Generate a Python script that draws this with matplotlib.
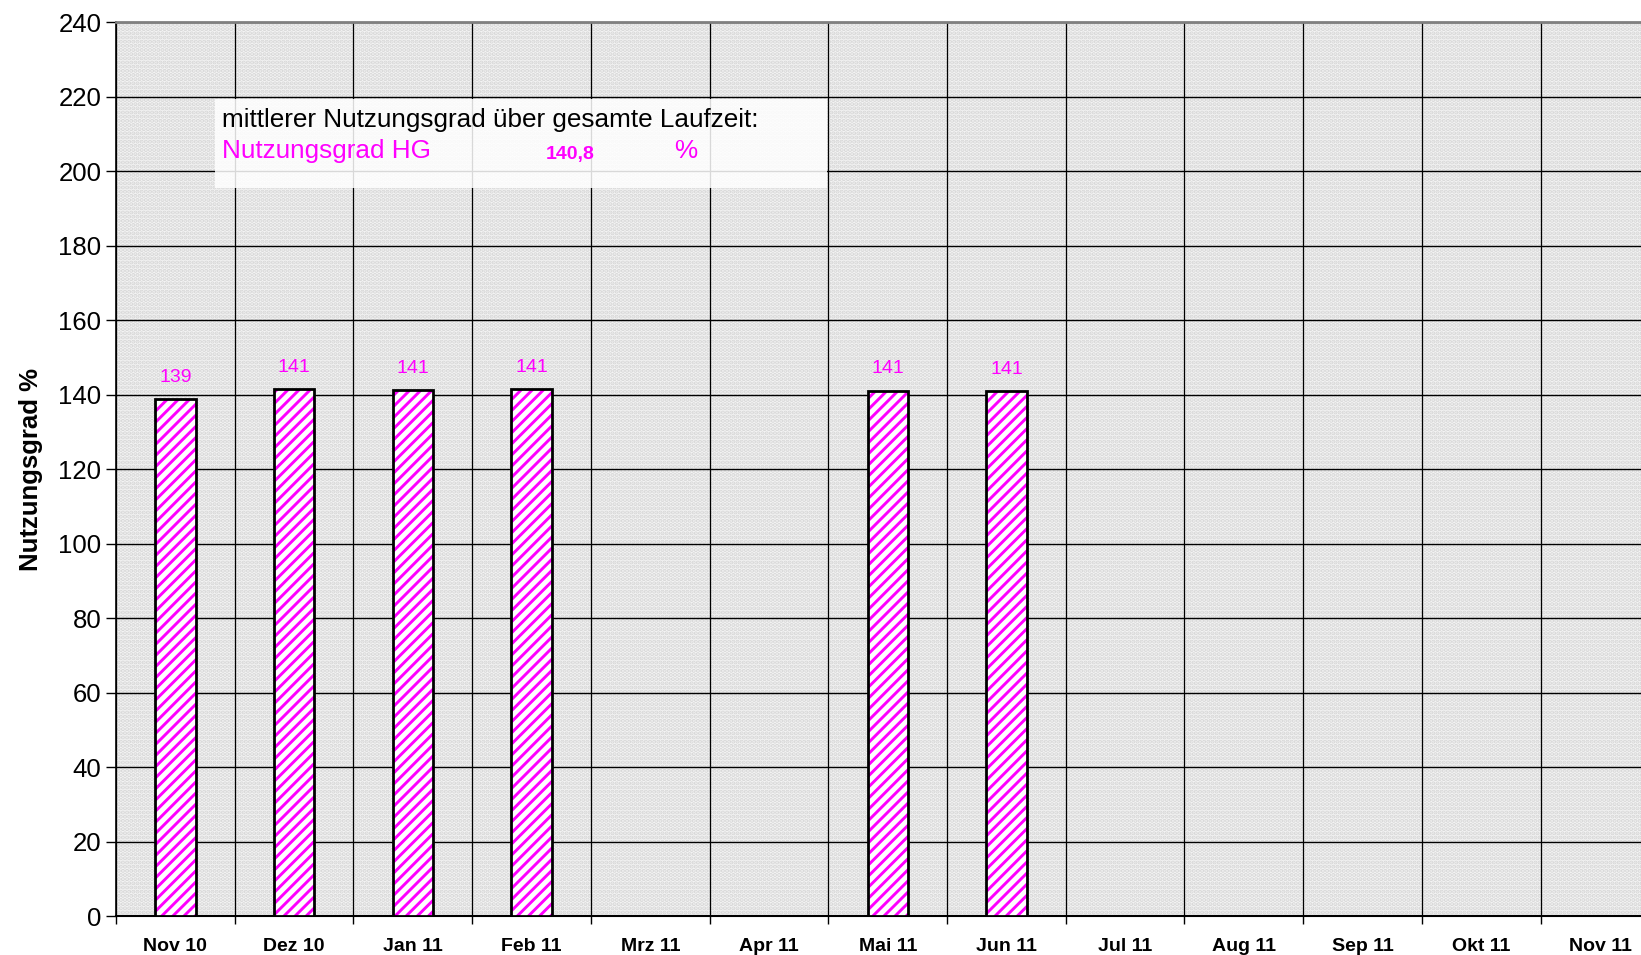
import numpy as np
import matplotlib.pyplot as plt

# --------------- Data -----------------
months = ["Nov 10", "Dez 10", "Jan 11", "Feb 11", "Mrz 11", "Apr 11", "Mai 11",
          "Jun 11", "Jul 11", "Aug 11", "Sep 11", "Okt 11", "Nov 11"]
nutzungsgrad = [138.8, 141.4, 141.2, 141.4, np.nan, np.nan, 141.1,
                140.9, np.nan, np.nan, np.nan, np.nan, np.nan]
mean_value = "140,8"
y_ticks = list(range(0, 241, 20))

plt.rcParams['font.family'] = ['Liberation Sans', 'DejaVu Sans']
plt.rcParams['hatch.linewidth'] = 2.1

MAGENTA = "#ff00ff"

fig = plt.figure(figsize=(16.41, 9.55), dpi=100)
ax = fig.add_axes([0.0707, 0.0408, 0.9405, 0.936])

# dotted grey background
ax.set_facecolor("#f4f4f4")
ax.patch.set_hatch("....")
ax.patch.set_edgecolor("#d6d6d6")
ax.patch.set_linewidth(0)

x = np.arange(len(months))
vals = np.array(nutzungsgrad, dtype=float)
mask = ~np.isnan(vals)

# ---- bars: magenta hatch, black outline ----
ax.bar(x[mask], vals[mask], width=0.34, color="white", edgecolor=MAGENTA,
       hatch="///", lw=0, zorder=3)
ax.bar(x[mask], vals[mask], width=0.34, fill=False, edgecolor="black",
       lw=2, zorder=4)
for xi, v in zip(x[mask], vals[mask]):
    ax.text(xi, v + 3.5, f"{v:.0f}", ha="center", va="bottom", color=MAGENTA,
            fontsize=14, zorder=5)

# ---- axes & grid ----
ax.set_xlim(-0.5, len(months) - 0.5)
ax.set_ylim(0, 240)
ax.set_yticks(y_ticks)
ax.tick_params(axis="y", labelsize=18.5, length=7, width=1, direction="out")
ax.set_xticks(x)
ax.set_xticklabels(months, fontsize=14, fontweight="bold")
ax.set_xticks(np.arange(len(months)) - 0.5, minor=True)
ax.tick_params(axis="x", which="major", length=0, pad=16)
ax.tick_params(axis="x", which="minor", length=6, width=1, direction="out")
ax.grid(True, axis="y", which="major", color="black", lw=1, zorder=1)
ax.grid(True, axis="x", which="minor", color="black", lw=0.9, zorder=1)
ax.set_axisbelow(True)
ax.spines["top"].set_color("#808080")
ax.spines["top"].set_linewidth(2)
ax.spines["right"].set_visible(False)
ax.spines["left"].set_linewidth(1.2)
ax.spines["bottom"].set_linewidth(1.5)

ax.set_ylabel("Nutzungsgrad %", fontsize=18.5, fontweight="bold", labelpad=11)

# ---- info box ----
ax.add_patch(plt.Rectangle((215 / 1641, 1 - 188 / 955), 612 / 1641, 89 / 955,
                           transform=fig.transFigure, facecolor="white",
                           alpha=0.85, edgecolor="none", zorder=6))
fig.text(222 / 1641, 1 - 120 / 955, "mittlerer Nutzungsgrad über gesamte Laufzeit:",
         fontsize=18.8, va="center", ha="left", zorder=7)
fig.text(222 / 1641, 1 - 151 / 955, "Nutzungsgrad HG", fontsize=18.8,
         color=MAGENTA, va="center", ha="left", zorder=7)
fig.text(570 / 1641, 1 - 154 / 955, mean_value, fontsize=14, fontweight="bold",
         color=MAGENTA, va="center", ha="center", zorder=7)
fig.text(686 / 1641, 1 - 151 / 955, "%", fontsize=18.8, color=MAGENTA,
         va="center", ha="center", zorder=7)

fig.savefig("out.png", dpi=100)
